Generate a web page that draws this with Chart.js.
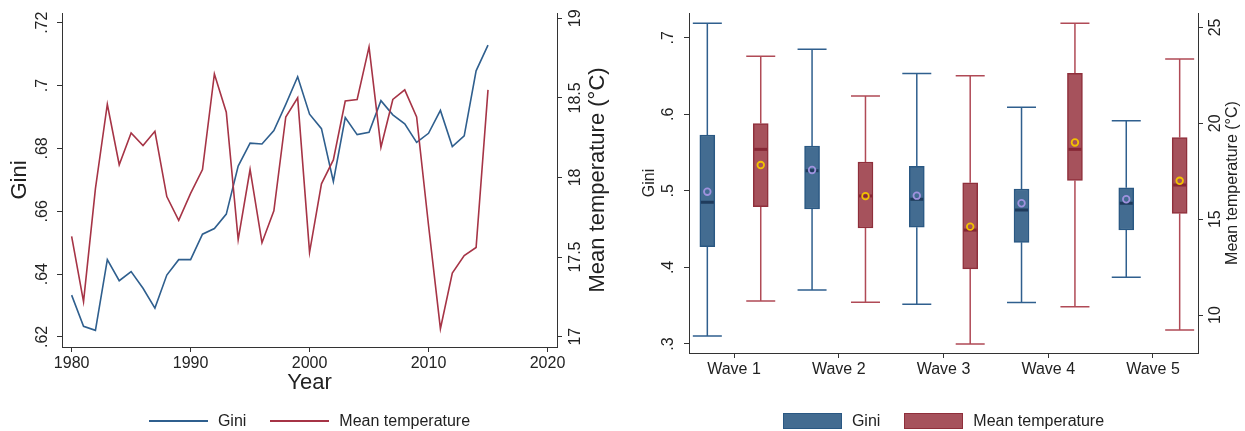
<!DOCTYPE html>
<html>
<head>
<meta charset="utf-8">
<script src="https://cdn.jsdelivr.net/npm/chart.js@4.4.1/dist/chart.umd.min.js"></script>
<style>
  body { margin: 0; background: #fff; font-family: "Liberation Sans", Arial, sans-serif; color: #222; }
  .panel { position: absolute; top: 0; height: 431px; }
  #left { left: 0; width: 620px; }
  #right { left: 620px; width: 625px; }
  .legend { position: absolute; top: 411px; height: 20px; display: flex; justify-content: center; align-items: center; font-size: 16px; }
  .legend .item { display: flex; align-items: center; margin: 0 12px; }
  .legend .line { width: 59px; height: 2px; margin-right: 10px; }
  .legend .box { width: 57px; height: 14px; margin-right: 10px; border: 1.5px solid; }
</style>
</head>
<body>
<div id="left" class="panel"><canvas id="lineChart"></canvas></div>
<div id="right" class="panel"><canvas id="boxChart"></canvas></div>
<div class="legend" style="left:62px;width:495px">
  <div class="item"><span class="line" style="background:#2f5f8e"></span>Gini</div>
  <div class="item"><span class="line" style="background:#a63446"></span>Mean temperature</div>
</div>
<div class="legend" style="left:689px;width:509px">
  <div class="item"><span class="box" style="background:#436c91;border-color:#2a5883"></span>Gini</div>
  <div class="item"><span class="box" style="background:#a6525c;border-color:#8f2f3b"></span>Mean temperature</div>
</div>
<script>
// ---- left panel: yearly series
const years = [1980, 1981, 1982, 1983, 1984, 1985, 1986, 1987, 1988, 1989,
               1990, 1991, 1992, 1993, 1994, 1995, 1996, 1997, 1998, 1999,
               2000, 2001, 2002, 2003, 2004, 2005, 2006, 2007, 2008, 2009,
               2010, 2011, 2012, 2013, 2014, 2015];
const giniYearly = [0.6333, 0.6234, 0.6221, 0.6446, 0.6379, 0.6408, 0.6355, 0.6292, 0.6397, 0.6446,
                    0.6446, 0.6527, 0.6545, 0.6591, 0.6744, 0.6817, 0.6814, 0.6857, 0.6940, 0.7028,
                    0.6909, 0.6863, 0.6695, 0.6898, 0.6844, 0.6851, 0.6952, 0.6907, 0.6878, 0.6819,
                    0.6848, 0.6921, 0.6806, 0.6840, 0.7047, 0.7129];
const tempYearly = [17.63, 17.22, 17.93, 18.46, 18.08, 18.28, 18.20, 18.29, 17.88, 17.73,
                    17.90, 18.05, 18.65, 18.41, 17.61, 18.05, 17.59, 17.79, 18.38, 18.50,
                    17.53, 17.96, 18.11, 18.48, 18.49, 18.82, 18.19, 18.49, 18.55, 18.38,
                    17.70, 17.05, 17.40, 17.51, 17.56, 18.55];
const yearTicks = [1980, 1990, 2000, 2010, 2020];
const giniTicksLeft = [0.62, 0.64, 0.66, 0.68, 0.7, 0.72];
const tempTicksLeft = [17, 17.5, 18, 18.5, 19];

// ---- right panel: box plots by wave
const waves = ['Wave 1', 'Wave 2', 'Wave 3', 'Wave 4', 'Wave 5'];
const waveTicks = [1, 2, 3, 4, 5];
const giniMin  = [0.3105, 0.3705, 0.3519, 0.3540, 0.3871];
const giniQ1   = [0.4271, 0.4763, 0.4524, 0.4328, 0.4489];
const giniMed  = [0.4851, 0.5263, 0.4890, 0.4750, 0.4838];
const giniQ3   = [0.5729, 0.5586, 0.5321, 0.5024, 0.5041];
const giniMax  = [0.7188, 0.6848, 0.6534, 0.6091, 0.5916];
const giniMean = [0.4989, 0.5272, 0.4937, 0.4838, 0.4890];
const tempMin  = [10.73, 10.66, 8.49, 10.43, 9.22];
const tempQ1   = [15.65, 14.54, 12.41, 17.02, 15.30];
const tempMed  = [18.64, 16.21, 14.43, 18.64, 16.78];
const tempQ3   = [19.99, 17.98, 16.90, 22.60, 19.26];
const tempMax  = [23.50, 21.42, 22.48, 25.21, 23.35];
const tempMean = [17.82, 16.20, 14.61, 19.00, 17.00];
const giniTicksRight = [0.3, 0.4, 0.5, 0.6, 0.7];
const tempTicksRight = [10, 15, 20, 25];

const FONT = '"Liberation Sans", Arial, sans-serif';
const AXIS = '#333';
const fmt = v => (Math.abs(v) < 1 ? String(v).replace('0.', '.') : String(v));

// rotated y tick labels and titles, drawn from the scales' own ticks
function yLabels(axes) {
  return {
    id: 'yLabels',
    afterDraw(chart) {
      const ctx = chart.ctx;
      const area = chart.chartArea;
      axes.forEach(a => {
        const s = chart.scales[a.id];
        ctx.save();
        ctx.fillStyle = '#222';
        ctx.textAlign = 'center';
        ctx.font = a.tickSize + 'px ' + FONT;
        ctx.textBaseline = 'alphabetic';
        const x0 = a.left ? s.right - a.gap : s.left + a.gap;
        s.ticks.forEach(t => {
          ctx.save();
          ctx.translate(x0, s.getPixelForValue(t.value));
          ctx.rotate(-Math.PI / 2);
          ctx.fillText(fmt(t.value), 0, 0);
          ctx.restore();
        });
        ctx.font = a.titleSize + 'px ' + FONT;
        ctx.textBaseline = 'middle';
        ctx.translate(a.titleX, (area.top + area.bottom) / 2);
        ctx.rotate(-Math.PI / 2);
        ctx.fillText(a.title, 0, 0);
        ctx.restore();
      });
    }
  };
}

function yAxis(pos, min, max, ticks, width) {
  return {
    position: pos, min: min, max: max,
    afterBuildTicks: s => { s.ticks = ticks.map(v => ({ value: v })); },
    afterFit: s => { s.width = width; },
    ticks: { display: false },
    grid: { drawOnChartArea: false, tickLength: 5, color: AXIS },
    border: { color: AXIS, width: 1 }
  };
}

new Chart(document.getElementById('lineChart'), {
  type: 'line',
  data: {
    datasets: [
      {
        label: 'Mean temperature',
        data: years.map((yr, i) => ({ x: yr, y: tempYearly[i] })),
        yAxisID: 'y2', borderColor: '#a63446', borderWidth: 1.6,
        pointRadius: 0, tension: 0, order: 0
      },
      {
        label: 'Gini',
        data: years.map((yr, i) => ({ x: yr, y: giniYearly[i] })),
        yAxisID: 'y', borderColor: '#2f5f8e', borderWidth: 1.6,
        pointRadius: 0, tension: 0, order: 1
      }
    ]
  },
  options: {
    responsive: true,
    maintainAspectRatio: false,
    animation: false,
    layout: { padding: { top: 13, left: 0, right: 0, bottom: 0 } },
    plugins: { legend: { display: false }, tooltip: { enabled: false } },
    scales: {
      x: {
        type: 'linear', min: 1979.19, max: 2020.8,
        afterBuildTicks: s => { s.ticks = yearTicks.map(v => ({ value: v })); },
        afterFit: s => { s.height = 84; },
        ticks: { font: { family: FONT, size: 16 }, color: '#222', padding: 2, maxRotation: 0,
                 callback: v => String(v) },
        grid: { drawOnChartArea: false, tickLength: 5, color: AXIS },
        border: { color: AXIS, width: 1 },
        title: { display: true, text: 'Year', font: { family: FONT, size: 22 }, color: '#222',
                 padding: { top: 0, bottom: 35 } }
      },
      y: yAxis('left', 0.6168, 0.7231, giniTicksLeft, 62),
      y2: yAxis('right', 16.935, 19.033, tempTicksLeft, 63)
    }
  },
  plugins: [yLabels([
    { id: 'y', left: true, gap: 15, tickSize: 16, title: 'Gini', titleSize: 22, titleX: 20 },
    { id: 'y2', left: false, gap: 23, tickSize: 16, title: 'Mean temperature (°C)', titleSize: 22, titleX: 598 }
  ])]
});

// ---- box plot panel
const SHIFT = 0.255;
const boxSeries = [
  { axis: 'y', shift: -SHIFT, min: giniMin, q1: giniQ1, med: giniMed, q3: giniQ3, max: giniMax,
    whisker: '#2f5f8e', median: '#1f3b5c', dataset: 2 },
  { axis: 'y2', shift: SHIFT, min: tempMin, q1: tempQ1, med: tempMed, q3: tempQ3, max: tempMax,
    whisker: '#b04a56', median: '#862735', dataset: 3 }
];

const boxParts = {
  id: 'boxParts',
  beforeDatasetsDraw(chart) {
    const ctx = chart.ctx, xs = chart.scales.x;
    boxSeries.forEach(s => {
      const ys = chart.scales[s.axis];
      ctx.save();
      ctx.strokeStyle = s.whisker;
      ctx.lineWidth = 1.5;
      waves.forEach((w, i) => {
        const x = xs.getPixelForValue(waveTicks[i] + s.shift);
        const hi = ys.getPixelForValue(s.max[i]), lo = ys.getPixelForValue(s.min[i]);
        const q1 = ys.getPixelForValue(s.q1[i]), q3 = ys.getPixelForValue(s.q3[i]);
        ctx.beginPath();
        ctx.moveTo(x, hi); ctx.lineTo(x, q3);
        ctx.moveTo(x, q1); ctx.lineTo(x, lo);
        ctx.moveTo(x - 14.5, hi); ctx.lineTo(x + 14.5, hi);
        ctx.moveTo(x - 14.5, lo); ctx.lineTo(x + 14.5, lo);
        ctx.stroke();
      });
      ctx.restore();
    });
  },
  afterDatasetDraw(chart, args) {
    const s = boxSeries.find(b => b.dataset === args.index);
    if (!s) return;
    const ctx = chart.ctx, xs = chart.scales.x, ys = chart.scales[s.axis];
    ctx.save();
    ctx.strokeStyle = s.median;
    ctx.lineWidth = 3;
    waves.forEach((w, i) => {
      const x = xs.getPixelForValue(waveTicks[i] + s.shift);
      const y = ys.getPixelForValue(s.med[i]);
      ctx.beginPath();
      ctx.moveTo(x - 6.5, y); ctx.lineTo(x + 6.5, y);
      ctx.stroke();
    });
    ctx.restore();
  }
};

new Chart(document.getElementById('boxChart'), {
  type: 'bar',
  data: {
    datasets: [
      {
        type: 'scatter', label: 'Gini mean', yAxisID: 'y',
        data: waveTicks.map((w, i) => ({ x: w - SHIFT, y: giniMean[i] })),
        pointRadius: 3.3, pointBorderWidth: 1.8, borderColor: '#9f92de', backgroundColor: 'rgba(0,0,0,0)'
      },
      {
        type: 'scatter', label: 'Temperature mean', yAxisID: 'y2',
        data: waveTicks.map((w, i) => ({ x: w + SHIFT, y: tempMean[i] })),
        pointRadius: 3.3, pointBorderWidth: 1.8, borderColor: '#f2c200', backgroundColor: 'rgba(0,0,0,0)'
      },
      {
        label: 'Gini', yAxisID: 'y', grouped: false, barThickness: 15,
        data: waveTicks.map((w, i) => ({ x: w - SHIFT, y: [giniQ1[i], giniQ3[i]] })),
        backgroundColor: '#436c91', borderColor: '#2a5883', borderWidth: 1.5, borderSkipped: false
      },
      {
        label: 'Mean temperature', yAxisID: 'y2', grouped: false, barThickness: 15,
        data: waveTicks.map((w, i) => ({ x: w + SHIFT, y: [tempQ1[i], tempQ3[i]] })),
        backgroundColor: '#a6525c', borderColor: '#8f2f3b', borderWidth: 1.5, borderSkipped: false
      }
    ]
  },
  options: {
    responsive: true,
    maintainAspectRatio: false,
    animation: false,
    layout: { padding: { top: 13, left: 0, right: 0, bottom: 0 } },
    plugins: { legend: { display: false }, tooltip: { enabled: false } },
    scales: {
      x: {
        type: 'linear', min: 0.57, max: 5.43, offset: false,
        afterBuildTicks: s => { s.ticks = waveTicks.map(v => ({ value: v })); },
        afterFit: s => { s.height = 78; },
        ticks: { font: { family: FONT, size: 16 }, color: '#222', padding: 2, maxRotation: 0,
                 callback: v => waves[v - 1] },
        grid: { drawOnChartArea: false, tickLength: 5, color: AXIS, offset: false },
        border: { color: AXIS, width: 1 }
      },
      y: yAxis('left', 0.2882, 0.7323, giniTicksRight, 69),
      y2: yAxis('right', 8.02, 25.75, tempTicksRight, 47)
    }
  },
  plugins: [boxParts, yLabels([
    { id: 'y', left: true, gap: 16, tickSize: 16, title: 'Gini', titleSize: 16, titleX: 30 },
    { id: 'y2', left: false, gap: 22, tickSize: 16, title: 'Mean temperature (°C)', titleSize: 16, titleX: 613 }
  ])]
});
</script>
</body>
</html>
